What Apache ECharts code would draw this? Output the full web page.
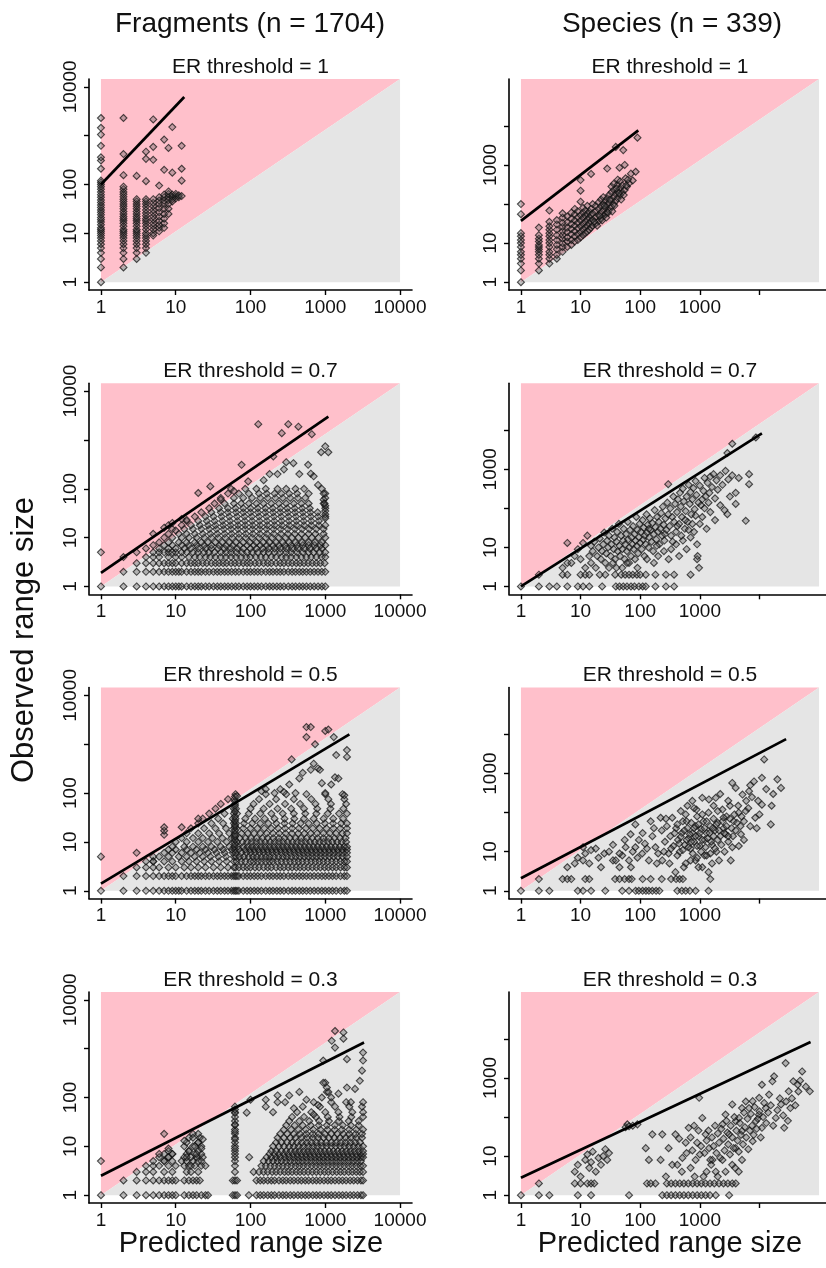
<!DOCTYPE html>
<html>
<head>
<meta charset="utf-8">
<title>Observed vs predicted range size</title>
<script src="https://cdn.jsdelivr.net/npm/echarts@6/dist/echarts.min.js"></script>
<style>
  html, body { margin: 0; padding: 0; background: #fff; }
  #chart { width: 826px; height: 1268px; }
</style>
</head>
<body>
<div id="chart"></div>
<script>
// ---- tick values ----
const fragTicks = [1, 10, 100, 1000, 10000]
const fragXLabels = [1, 10, 100, 1000, 10000]
const fragYLabels = [1, 10, 100, 10000]
const spTicks = [1, 10, 100, 1000, 10000]
const spXLabels = [1, 10, 100, 1000]
const spYLabels = [1, 10, 1000]

const thresholds = ['1', '0.7', '0.5', '0.3']

// ---- fitted lines (start / end) ----
const fragFit1 = [[1, 100], [13, 6200]]
const fragFit07 = [[1, 1.9], [1100, 3000]]
const fragFit05 = [[1, 1.4], [2100, 1600]]
const fragFit03 = [[1, 2.5], [3300, 1340]]
const spFit1 = [[1, 37], [93, 7700]]
const spFit07 = [[1, 1], [11000, 8300]]
const spFit05 = [[1, 2.1], [28000, 7600]]
const spFit03 = [[1, 2.8], [72000, 8300]]

// ---- Fragments, ER = 1 : [x, [y...]] ----
const fragCols1 = [
  [1, [1, 2, 3, 4, 5, 6, 7, 8, 9, 10, 11, 12, 13, 15, 17, 19, 21, 24, 27, 30, 34, 38, 43, 48, 55, 62, 70, 80, 90, 100, 110, 120, 210, 310, 360, 620, 1050, 1450, 2300]],
  [2, [2, 3, 4, 5, 6, 7, 8, 9, 10, 11, 12, 14, 16, 18, 20, 22, 25, 28, 32, 36, 40, 45, 50, 56, 63, 70, 80, 90, 155, 420, 2300]],
  [3, [3, 4, 5, 6, 7, 8, 9, 10, 11, 12, 14, 16, 18, 20, 22, 25, 28, 32, 36, 40, 45, 50, 150]],
  [4, [4, 5, 6, 7, 8, 9, 10, 12, 14, 16, 18, 20, 23, 26, 30, 35, 40, 45, 50, 117, 335, 470]],
  [5, [9, 10, 12, 14, 16, 19, 22, 26, 30, 36, 42, 50, 320, 590, 2150]],
  [6, [11, 13, 15, 18, 22, 27, 33, 40, 47, 55, 95]],
  [7, [13, 16, 20, 25, 32, 40, 47, 55, 62, 200, 830]],
  [8, [25, 32, 40, 48, 56, 64, 72, 560]],
  [9, [45, 50, 56, 62, 175, 1500]],
  [10, [52, 58, 64]],
  [11, [55, 60]],
  [12, [58, 120, 210, 620]]
]

// ---- Fragments, ER = 0.7 : [y, [x...]] ----
const fragRows07 = [
  [1, [1, 2, 3, 4, 5, 6, 7, 8, 9, 10, 11, 12, 14, 16, 18, 20, 22, 25, 28, 32, 36, 40, 45, 50, 56, 63, 70, 80, 90, 100, 112, 125, 140, 160, 180, 200, 225, 250, 280, 320, 360, 400, 450, 500, 560, 630, 710, 800, 900, 1000]],
  [2, [2, 3, 4, 5, 6, 7, 8, 9, 10, 11, 12, 14, 16, 18, 20, 22, 25, 28, 32, 36, 40, 45, 50, 56, 63, 70, 80, 90, 100, 112, 125, 140, 160, 180, 200, 225, 250, 280, 320, 360, 400, 450, 500, 560, 630, 710, 800, 900, 1000]],
  [3, [3, 4, 5, 6, 7, 8, 9, 10, 12, 14, 16, 18, 20, 23, 26, 30, 34, 38, 43, 48, 55, 62, 70, 80, 90, 100, 115, 130, 150, 170, 190, 220, 250, 280, 320, 360, 410, 460, 520, 590, 670, 760, 860, 980]],
  [4, [4, 5, 6, 8, 10, 12, 15, 18, 21, 25, 29, 34, 40, 47, 55, 64, 75, 88, 100, 118, 138, 160, 190, 220, 260, 300, 350, 410, 480, 560, 650, 760, 890, 1000]],
  [5, [3, 5, 6, 7, 8, 9, 10, 12, 14, 17, 20, 24, 28, 33, 40, 47, 55, 65, 77, 90, 105, 125, 150, 175, 210, 250, 300, 350, 420, 500, 600, 700, 850, 1000]],
  [6, [4, 6, 8, 10, 13, 16, 20, 25, 30, 37, 45, 55, 67, 80, 100, 120, 145, 175, 210, 250, 300, 360, 430, 520, 620, 750, 900]],
  [7, [5, 7, 9, 12, 15, 19, 24, 30, 38, 47, 58, 72, 90, 110, 135, 165, 200, 240, 290, 350, 420, 500, 600, 720, 870, 1000]],
  [8, [6, 8, 11, 14, 18, 22, 27, 34, 42, 52, 64, 80, 98, 120, 148, 180, 220, 270, 330, 400, 490, 600, 730, 900]],
  [10, [7, 9, 12, 15, 19, 24, 30, 37, 46, 57, 70, 86, 105, 130, 160, 195, 240, 295, 360, 440, 540, 660, 810, 1000]],
  [12, [8, 11, 14, 18, 23, 29, 36, 45, 56, 70, 87, 108, 134, 166, 205, 255, 315, 390, 480, 600, 740, 950]],
  [15, [9, 13, 17, 22, 28, 35, 44, 55, 68, 85, 106, 132, 164, 204, 254, 316, 393, 490, 610, 760, 950]],
  [18, [12, 16, 21, 27, 34, 43, 54, 68, 85, 107, 134, 168, 210, 263, 330, 413, 520, 650, 820, 1000]],
  [22, [14, 20, 26, 33, 42, 53, 67, 84, 105, 132, 166, 208, 260, 327, 410, 515, 650, 820]],
  [27, [18, 25, 32, 41, 52, 66, 83, 104, 130, 163, 205, 258, 323, 405, 510, 640, 800, 1000]],
  [33, [22, 30, 40, 50, 64, 80, 100, 126, 158, 200, 250, 315, 395, 500, 630, 790]],
  [40, [28, 38, 50, 63, 80, 100, 125, 158, 198, 250, 310, 390, 490, 620, 1000]],
  [50, [33, 45, 60, 75, 95, 120, 150, 190, 240, 300, 380, 480, 600, 950]],
  [65, [40, 60, 80, 105, 135, 170, 215, 270, 340, 430, 540, 1000]],
  [80, [50, 70, 95, 130, 165, 210, 260, 330, 420, 600, 1000]],
  [100, [55, 85, 120, 160, 230, 300, 400, 520, 900]]
]
const fragPts07 = [
  [1, 5], [2, 4], [5, 12], [7, 16], [8, 18], [9, 20], [10, 14], [12, 24], [14, 23], [20, 82], [29, 112],
  [40, 60], [60, 90], [76, 310], [93, 142], [127, 2100], [150, 150], [180, 200], [202, 460], [230, 200],
  [262, 1380], [280, 250], [300, 350], [320, 2100], [375, 335], [437, 1870], [450, 200], [590, 310],
  [640, 204], [660, 1310], [700, 180], [800, 120], [880, 560], [950, 60], [950, 80], [1000, 740],
  [1100, 560], [1000, 45], [1000, 35], [1000, 30], [1000, 25], [980, 50]
]

// ---- Fragments, ER = 0.5 ----
const fragRows05 = [
  [1, [1, 2, 3, 4, 5, 6, 7, 8, 9, 10, 11, 12, 14, 16, 18, 20, 22, 25, 28, 32, 36, 40, 45, 50, 56, 60, 63, 66, 70, 80, 90, 100, 112, 125, 140, 160, 180, 200, 225, 250, 280, 320, 360, 400, 450, 500, 560, 630, 710, 800, 900, 1000, 1120, 1250, 1400, 1600, 1800, 1950]],
  [2, [2, 3, 4, 5, 6, 7, 8, 9, 10, 12, 14, 16, 18, 20, 22, 25, 28, 32, 36, 40, 45, 50, 56, 60, 63, 66, 70, 80, 90, 100, 112, 125, 140, 160, 180, 200, 225, 250, 280, 320, 360, 400, 450, 500, 560, 630, 710, 800, 900, 1000, 1120, 1250, 1400, 1600, 1800, 1950]],
  [3, [3, 4, 5, 6, 8, 10, 13, 16, 20, 25, 32, 40, 50, 60, 63, 70, 80, 90, 100, 115, 130, 150, 170, 190, 220, 250, 280, 320, 360, 410, 460, 520, 590, 670, 760, 860, 980, 1100, 1250, 1400, 1600, 1800, 1950]],
  [4, [4, 5, 7, 9, 12, 15, 19, 24, 30, 38, 48, 60, 65, 75, 85, 100, 110, 125, 140, 160, 180, 200, 230, 260, 300, 340, 390, 440, 500, 570, 650, 740, 840, 950, 1080, 1230, 1400, 1600, 1800, 1950]],
  [5, [5, 6, 8, 11, 14, 18, 23, 29, 37, 47, 60, 64, 72, 82, 95, 108, 122, 140, 160, 180, 205, 235, 270, 305, 350, 400, 455, 520, 590, 670, 760, 870, 990, 1130, 1290, 1470, 1700, 1950]],
  [6, [7, 9, 12, 16, 21, 27, 35, 45, 58, 63, 75, 88, 100, 115, 132, 150, 172, 197, 225, 260, 295, 340, 390, 445, 510, 580, 665, 760, 870, 990, 1140, 1300, 1500, 1700, 1950]],
  [7, [8, 10, 14, 19, 25, 33, 43, 56, 62, 70, 85, 98, 112, 128, 147, 168, 192, 220, 252, 288, 330, 378, 432, 495, 566, 650, 745, 850, 975, 1120, 1280, 1470, 1680, 1950]],
  [8, [9, 13, 17, 23, 30, 40, 52, 61, 68, 80, 92, 105, 120, 138, 158, 181, 208, 238, 272, 311, 356, 407, 466, 534, 611, 700, 800, 915, 1050, 1200, 1370, 1570, 1800, 1950]],
  [10, [10, 14, 20, 27, 36, 48, 60, 66, 78, 90, 104, 120, 138, 158, 182, 209, 240, 275, 316, 363, 416, 478, 548, 629, 722, 828, 950, 1090, 1250, 1440, 1650, 1900]],
  [12, [12, 17, 23, 31, 42, 56, 61, 72, 86, 102, 121, 144, 170, 202, 240, 285, 338, 401, 476, 565, 670, 795, 943, 1120, 1330, 1580, 1870]],
  [15, [14, 20, 28, 38, 52, 62, 76, 92, 112, 136, 165, 200, 243, 295, 358, 435, 528, 641, 778, 945, 1150, 1390, 1690, 1950]],
  [19, [16, 24, 34, 47, 60, 65, 80, 100, 124, 153, 190, 235, 290, 360, 445, 550, 680, 840, 1040, 1290, 1590, 1950]],
  [24, [20, 30, 43, 60, 64, 82, 105, 135, 173, 222, 285, 365, 468, 600, 770, 990, 1270, 1630, 1950]],
  [30, [23, 37, 58, 63, 85, 115, 155, 210, 285, 385, 520, 700, 950, 1280, 1730]],
  [38, [28, 45, 60, 66, 95, 135, 190, 270, 380, 540, 760, 1080, 1530, 1950]],
  [48, [34, 60, 64, 100, 150, 230, 350, 520, 780, 1170, 1750]],
  [60, [40, 62, 110, 180, 290, 460, 740, 1190, 1900]],
  [75, [50, 61, 130, 220, 380, 650, 1100, 1800]],
  [95, [63, 160, 300, 560, 1000, 1700]]
]
const fragCol05 = [62, [9, 11, 13, 14, 17, 20, 22, 27, 33, 42, 55, 68, 85]]
const fragPts05 = [
  [1, 5], [3, 6], [7, 14], [7, 17], [7, 20], [5, 4], [12, 20], [20, 30], [66, 87], [140, 110], [160, 120],
  [210, 100], [250, 120], [280, 105], [330, 150], [355, 490], [400, 100], [450, 200], [500, 260],
  [560, 2250], [640, 2250], [560, 1400], [730, 1000], [640, 300], [700, 400], [800, 320], [1000, 1870],
  [1100, 2000], [1300, 1400], [1350, 210], [1400, 600], [1950, 760], [1950, 550], [1200, 150], [900, 160],
  [850, 300], [1000, 100], [1500, 200], [1800, 90]
]

// ---- Fragments, ER = 0.3 ----
const fragRows03 = [
  [1, [1, 2, 3, 4, 5, 6, 7, 8, 9, 10, 13, 15, 17, 19, 22, 25, 27, 58, 62, 66, 95, 120, 135, 150, 170, 190, 210, 240, 270, 300, 340, 380, 430, 480, 540, 600, 680, 760, 850, 960, 1080, 1200, 1350, 1520, 1700, 1900, 2150, 2400, 2700, 3000, 3200]],
  [2, [2, 3, 4, 5, 6, 7, 8, 9, 10, 13, 15, 17, 19, 21, 58, 62, 66, 120, 135, 150, 170, 190, 210, 240, 270, 300, 340, 380, 430, 480, 540, 600, 680, 760, 850, 960, 1080, 1200, 1350, 1520, 1700, 1900, 2150, 2400, 2700, 3000, 3200]],
  [3, [3, 4, 5, 7, 9, 14, 16, 20, 62, 110, 130, 150, 170, 195, 220, 250, 285, 320, 360, 410, 460, 520, 590, 670, 760, 860, 980, 1100, 1250, 1420, 1600, 1800, 2050, 2300, 2600, 2900, 3200]],
  [4, [4, 5, 6, 8, 10, 13, 15, 18, 22, 62, 140, 160, 185, 210, 240, 270, 310, 350, 400, 450, 510, 580, 660, 750, 850, 960, 1090, 1240, 1400, 1590, 1800, 2050, 2300, 2600, 2950, 3200]],
  [5, [5, 7, 9, 12, 14, 17, 20, 62, 150, 175, 200, 230, 260, 300, 340, 390, 440, 500, 570, 650, 740, 840, 950, 1080, 1230, 1400, 1590, 1800, 2050, 2350, 2650, 3000]],
  [6, [6, 8, 13, 16, 19, 23, 62, 165, 190, 220, 250, 290, 330, 380, 430, 490, 560, 640, 730, 830, 940, 1070, 1220, 1390, 1580, 1800, 2050, 2330, 2650, 3000, 3200]],
  [7, [7, 9, 14, 18, 22, 62, 180, 210, 240, 280, 320, 370, 420, 480, 550, 620, 710, 810, 920, 1050, 1190, 1350, 1540, 1750, 2000, 2270, 2580, 2950, 3200]],
  [8, [8, 15, 20, 62, 190, 220, 260, 300, 345, 395, 450, 515, 590, 670, 765, 870, 990, 1130, 1290, 1470, 1670, 1900, 2170, 2470, 2810, 3200]],
  [10, [13, 17, 22, 62, 200, 240, 280, 330, 380, 440, 510, 590, 680, 780, 900, 1040, 1200, 1380, 1590, 1830, 2110, 2430, 2800, 3200]],
  [12, [14, 20, 62, 220, 260, 310, 360, 420, 490, 570, 660, 770, 890, 1030, 1200, 1390, 1610, 1870, 2170, 2520, 2920]],
  [15, [15, 21, 62, 230, 280, 340, 400, 480, 570, 680, 800, 950, 1120, 1330, 1570, 1860, 2200, 2600, 3100]],
  [18, [17, 62, 250, 310, 380, 460, 560, 680, 820, 990, 1200, 1450, 1750, 2100, 2550, 3100]],
  [22, [62, 280, 350, 440, 550, 690, 860, 1070, 1340, 1670, 2090, 2600, 3200]],
  [27, [62, 300, 390, 500, 640, 820, 1050, 1340, 1720, 2200, 2800]],
  [33, [62, 330, 450, 610, 830, 1120, 1520, 2060, 2800]],
  [40, [62, 360, 520, 750, 1080, 1550, 2230, 3200]],
  [50, [62, 200, 420, 650, 1000, 1500, 2300, 3200]],
  [65, [62, 160, 500, 850, 1350, 2100, 3100]],
  [80, [230, 700, 1200, 1900, 3200]]
]
const fragPts03 = [
  [1, 5], [7, 18], [6, 7], [7, 5], [8, 6], [8, 9], [9, 7], [13, 13], [14, 6], [15, 8], [16, 4], [17, 15],
  [18, 10], [19, 7], [20, 12], [20, 18], [22, 5], [22, 9], [23, 14], [25, 4], [62, 9], [62, 14], [62, 20],
  [62, 28], [62, 48], [62, 57], [89, 49], [96, 6], [100, 90], [160, 90], [230, 110], [290, 80], [330, 110],
  [380, 60], [450, 130], [560, 90], [700, 45], [940, 570], [1000, 200], [1050, 130], [1220, 1450],
  [1350, 2300], [1750, 2150], [1750, 1600], [1350, 1050], [1950, 610], [3200, 830], [3200, 570],
  [3100, 355], [2900, 220], [1950, 160], [1500, 120], [2500, 150], [1200, 100], [900, 100], [800, 70],
  [2200, 80], [1100, 130], [940, 200], [1050, 160]
]

// ---- Species, ER = 1 ----
const spCols1 = [
  [1, [1, 2, 3, 4, 5, 6, 8, 10, 12, 15, 18, 55, 100]],
  [2, [2, 3, 4, 5, 6, 7, 8, 9, 11, 13, 16, 25]],
  [3, [3, 4, 5, 6, 8, 10, 12, 15, 18, 22, 27, 35, 68]],
  [4, [4, 5, 7, 9, 12, 16, 22, 30, 39]],
  [5, [6, 8, 10, 13, 16, 20, 26, 33, 45, 58]]
]
const spPts1 = [
  [6, 8], [6, 11], [6, 14], [6, 19], [6, 25], [6, 34], [6, 48], [7, 9], [7, 12], [7, 17], [7, 23], [7, 31],
  [7, 42], [7, 60], [8, 11], [8, 15], [8, 20], [8, 28], [8, 38], [8, 55], [8, 75], [9, 12], [9, 17], [9, 24],
  [9, 33], [9, 46], [9, 65], [10, 14], [10, 19], [10, 27], [10, 38], [10, 52], [10, 115], [10, 220], [10, 410],
  [11, 16], [11, 22], [11, 31], [11, 44], [11, 60], [11, 80], [12, 18], [12, 25], [12, 35], [12, 50], [12, 68],
  [13, 20], [13, 28], [13, 40], [13, 56], [13, 90], [14, 22], [14, 32], [14, 45], [14, 64], [15, 25], [15, 36],
  [15, 52], [15, 75], [15, 590], [16, 28], [16, 40], [16, 58], [16, 100], [18, 32], [18, 46], [18, 66], [18, 90],
  [20, 36], [20, 52], [20, 75], [20, 110], [22, 42], [22, 60], [22, 88], [22, 130], [24, 48], [24, 70],
  [24, 100], [24, 150], [26, 55], [26, 80], [26, 120], [28, 62], [28, 95], [28, 140], [28, 810], [30, 70],
  [30, 110], [30, 170], [33, 85], [33, 130], [33, 200], [33, 280], [36, 100], [36, 150], [36, 230], [36, 330],
  [39, 120], [39, 180], [39, 2900], [42, 140], [42, 210], [42, 310], [42, 420], [46, 170], [46, 250], [46, 380],
  [50, 200], [50, 300], [52, 2400], [57, 455], [55, 230], [60, 280], [65, 340], [70, 600], [84, 670],
  [90, 5000], [75, 400], [45, 850], [55, 1000], [17, 35], [19, 28], [21, 50], [23, 38], [25, 90], [27, 45],
  [29, 60], [31, 130], [34, 65], [37, 90], [40, 250], [44, 190], [48, 130], [53, 170], [58, 300], [62, 420]
]

// ---- Species, ER = 0.7 ----
const spRows07 = [
  [1, [1, 2, 3, 4, 6, 9, 11, 14, 23, 39, 45, 52, 60, 70, 80, 95, 110, 124, 180, 270, 370]],
  [2, [2, 5, 6, 10, 12, 14, 21, 26, 38, 48, 56, 65, 75, 88, 100, 124, 180, 270, 370, 700]]
]
const spPts07 = [
  [5, 3], [6, 13], [6, 4], [7, 4], [8, 6], [9, 9], [10, 5], [11, 13], [12, 3], [13, 20], [14, 6], [15, 4],
  [15, 11], [16, 8], [17, 14], [18, 3], [19, 6], [20, 10], [21, 17], [22, 5], [23, 8], [24, 12], [25, 24],
  [26, 4], [27, 7], [28, 15], [29, 10], [30, 3], [30, 20], [32, 6], [33, 12], [34, 30], [35, 4], [36, 9],
  [37, 18], [38, 5], [40, 14], [41, 25], [42, 8], [44, 40], [45, 11], [46, 6], [48, 20], [50, 3], [50, 9],
  [52, 15], [53, 30], [55, 5], [56, 12], [58, 22], [60, 8], [62, 45], [63, 16], [65, 4], [66, 10], [68, 28],
  [70, 6], [72, 18], [74, 12], [76, 35], [78, 9], [80, 22], [82, 5], [84, 15], [86, 60], [88, 11], [90, 28],
  [92, 7], [95, 18], [98, 40], [100, 13], [103, 25], [106, 9], [110, 50], [112, 16], [115, 32], [118, 6],
  [120, 20], [124, 12], [128, 70], [130, 24], [134, 38], [138, 10], [142, 18], [146, 55], [150, 28],
  [155, 14], [160, 42], [165, 8], [170, 22], [175, 90], [180, 33], [186, 16], [192, 60], [198, 25], [205, 45],
  [210, 12], [218, 30], [225, 75], [232, 20], [240, 110], [248, 38], [255, 15], [265, 55], [275, 28],
  [285, 140], [295, 70], [300, 5], [310, 35], [320, 100], [330, 20], [345, 60], [360, 200], [370, 45],
  [385, 130], [400, 25], [415, 80], [430, 170], [450, 40], [465, 250], [480, 110], [500, 60], [520, 320],
  [540, 150], [560, 30], [580, 85], [600, 200], [625, 45], [650, 400], [680, 130], [700, 260], [720, 70],
  [750, 170], [780, 330], [820, 95], [850, 500], [880, 220], [900, 5], [920, 6], [970, 3], [950, 140],
  [1000, 380], [1050, 120], [1100, 170], [1150, 280], [1200, 600], [1250, 200], [1350, 450], [1450, 250],
  [1500, 650], [1600, 350], [1700, 750], [1800, 180], [1900, 520], [2000, 300], [2200, 700], [2400, 400],
  [2700, 910], [2900, 71], [2900, 2600], [3000, 550], [3500, 700], [3500, 4500], [4000, 250], [4500, 600],
  [5900, 48], [6700, 415], [6700, 750], [8700, 6500], [295, 415],
  [40, 3], [60, 4], [90, 3], [130, 5], [170, 4], [200, 6], [250, 8], [330, 9], [400, 12], [450, 6],
  [520, 15], [600, 9], [700, 18], [800, 25], [900, 12], [1000, 40], [1100, 60], [1300, 30], [1500, 80],
  [1800, 50], [2200, 120], [2600, 90], [3200, 200], [4000, 130], [140, 30], [190, 11], [260, 22], [350, 14],
  [420, 35], [490, 20], [570, 50], [650, 28], [750, 40], [850, 65], [1200, 100], [1400, 140]
]

// ---- Species, ER = 0.5 ----
const spRows05 = [
  [1, [1, 2, 3, 9, 11, 15, 26, 50, 65, 84, 95, 110, 125, 140, 160, 185, 210, 420, 500, 580, 680, 850, 1400]],
  [2, [2, 5, 6, 7, 12, 14, 38, 45, 55, 65, 72, 110, 150, 230, 330, 400, 460, 520, 1500]]
]
const spPts05 = [
  [6, 4], [8, 5], [9, 7], [11, 13], [11, 6], [12, 9], [14, 5], [15, 11], [18, 12], [20, 7], [22, 4], [25, 9],
  [30, 10], [35, 6], [39, 6], [45, 4], [50, 8], [57, 13], [65, 6], [69, 28], [75, 10], [83, 50], [83, 13],
  [95, 20], [108, 9], [120, 16], [140, 6], [150, 60], [160, 25], [180, 13], [200, 9], [220, 74], [230, 35],
  [235, 6], [260, 18], [280, 45], [300, 9], [320, 25], [345, 74], [360, 14], [390, 3], [400, 40], [430, 20],
  [460, 10], [500, 30], [520, 60], [560, 15], [580, 90], [580, 5], [620, 40], [650, 22], [700, 12], [720, 55],
  [760, 30], [800, 18], [850, 6], [850, 45], [900, 80], [950, 25], [1000, 14], [1050, 38], [1100, 240],
  [1100, 4], [1150, 60], [1200, 20], [1300, 30], [1400, 3], [1400, 100], [1420, 218], [1500, 45], [1600, 15],
  [1700, 70], [1800, 35], [1850, 240], [1900, 10], [2000, 55], [2100, 6], [2200, 25], [2400, 120], [2500, 40],
  [2700, 28], [2800, 80], [3000, 18], [3200, 150], [3500, 13], [3500, 575], [3700, 60], [4000, 430],
  [4000, 35], [4500, 100], [4900, 28], [5200, 290], [5500, 60], [5900, 110], [6700, 355], [7000, 45],
  [8100, 630], [8500, 74], [9500, 200], [11000, 160], [11000, 780], [12000, 2300], [15500, 50],
  [20000, 710], [23000, 430], [17000, 300], [330, 12], [380, 30], [420, 50], [450, 16], [480, 24], [520, 11],
  [550, 35], [600, 20], [640, 13], [680, 28], [720, 18], [760, 9], [800, 40], [850, 25], [900, 14], [950, 50],
  [1000, 30], [1050, 10], [1100, 20], [1200, 40], [1250, 13], [1300, 60], [1350, 22], [1450, 30], [1500, 9],
  [1550, 18], [1650, 40], [1700, 25], [1800, 12], [1900, 50], [2000, 20], [2100, 35], [2300, 15], [2400, 60],
  [2600, 30], [2800, 45], [3000, 25], [3200, 70], [3400, 40], [3800, 90], [4200, 55], [4400, 150],
  [5000, 80], [6000, 200], [1200, 8], [900, 7], [700, 6], [1600, 5],
  [35, 15], [45, 9], [55, 20], [70, 4], [90, 7], [110, 30], [130, 12], [170, 40], [190, 5], [250, 10],
  [270, 70], [310, 5], [420, 8], [480, 110], [540, 4], [620, 150], [750, 200], [880, 120], [950, 4],
  [1300, 8], [1700, 150], [2200, 300], [2600, 10], [3000, 200], [3300, 6], [4500, 14], [5500, 20],
  [6500, 130], [7500, 250], [9000, 40], [10000, 90], [13000, 400], [16000, 150], [7000, 500], [2000, 110],
  [2500, 75], [3600, 25], [4800, 45], [1100, 90], [800, 130], [600, 60]
]

// ---- Species, ER = 0.3 ----
const spRows03 = [
  [1, [1, 2, 3, 9, 15, 65, 235, 280, 330, 390, 460, 540, 640, 760, 900, 1060, 1250, 1480, 1850, 3100]],
  [2, [2, 8, 10, 13, 15, 17, 130, 150, 180, 280, 330, 390, 460, 540, 640, 760, 900, 1060, 1250, 1480, 1750, 2100, 2500, 2950, 3500, 4000]]
]
const spPts03 = [
  [8, 4], [9, 6], [10, 3], [12, 8], [13, 11], [14, 5], [15, 7], [16, 13], [18, 4], [20, 9], [22, 6], [24, 10],
  [26, 15], [28, 8], [30, 12], [57, 55], [61, 65], [75, 60], [90, 65], [65, 58], [124, 16], [140, 8],
  [160, 36], [220, 8], [235, 36], [270, 3], [300, 16], [345, 6], [390, 36], [510, 9], [580, 22], [650, 53],
  [975, 310], [1100, 95], [1250, 36], [1430, 16], [1630, 8], [1850, 4], [2400, 65], [2700, 116], [3100, 36],
  [3500, 210], [4000, 16], [4550, 95], [5100, 44], [5900, 250], [6700, 170], [7700, 24], [8700, 78],
  [9900, 310], [11000, 53], [12800, 170], [14500, 375], [16500, 820], [18800, 95], [23000, 210],
  [26000, 53], [27500, 2400], [31000, 455], [33000, 170], [37000, 820], [44000, 670], [52000, 1470],
  [70000, 455], [17600, 1100], [11000, 670], [5100, 170], [4000, 78], [5100, 8], [3900, 5], [9800, 115],
  [7700, 255], [1200, 12], [1300, 25], [1400, 45], [1500, 8], [1600, 30], [1700, 18], [1800, 60], [1900, 12],
  [2000, 38], [2100, 22], [2200, 9], [2300, 50], [2500, 28], [2600, 14], [2800, 80], [2900, 40], [3000, 20],
  [3200, 11], [3300, 60], [3500, 30], [3700, 16], [3800, 100], [4100, 45], [4300, 25], [4500, 13], [4700, 70],
  [4900, 35], [5300, 20], [5500, 130], [5700, 55], [6000, 30], [6300, 90], [6500, 15], [6900, 45],
  [7200, 120], [7500, 60], [8000, 35], [8300, 180], [9000, 50], [9400, 90], [10000, 140], [10500, 30],
  [11500, 100], [12000, 230], [13000, 70], [14000, 130], [15500, 200], [17000, 60], [20000, 150],
  [22000, 300], [25000, 110], [28000, 250], [30000, 80], [35000, 300], [40000, 200], [45000, 450],
  [48000, 850], [60000, 600], [700, 30], [750, 14], [800, 60], [850, 8], [900, 22], [950, 45], [1000, 11],
  [1050, 18], [600, 12], [450, 28], [420, 6], [500, 4], [700, 5], [820, 3], [1150, 3], [1300, 4], [1550, 6],
  [2000, 3], [2700, 4], [3500, 6], [2400, 8], [4500, 4]
]

// ---- helpers ----
function fromCols(cols) {
  const out = []
  cols.forEach(c => c[1].forEach(y => out.push([c[0], y])))
  return out
}
function fromRows(rows) {
  const out = []
  rows.forEach(r => r[1].forEach(x => out.push([x, r[0]])))
  return out
}

const panelData = [
  [fromCols(fragCols1), fromCols(spCols1).concat(spPts1)],
  [fromRows(fragRows07).concat(fragPts07), fromRows(spRows07).concat(spPts07)],
  [fromRows(fragRows05).concat(fromCols([fragCol05]), fragPts05), fromRows(spRows05).concat(spPts05)],
  [fromRows(fragRows03).concat(fragPts03), fromRows(spRows03).concat(spPts03)]
]
const panelFits = [
  [fragFit1, spFit1],
  [fragFit07, spFit07],
  [fragFit05, spFit05],
  [fragFit03, spFit03]
]

// layout
const FONT = "'Liberation Sans', Arial, Helvetica, sans-serif"
const colLeft = [89, 509]
const colWidth = [323, 322]
const rowTop = [79, 383.3, 687.6, 992]
const plotH = 211
// R style 4% padding on log range
const colExt = [
  { min: Math.pow(10, -0.16), max: Math.pow(10, 4.16), dataMax: 10000 },
  { min: Math.pow(10, -0.2), max: Math.pow(10, 5.2), dataMax: 100000 }
]

const grids = []
const xAxes = []
const yAxes = []
const series = []
const graphics = []

function regionSeries(idx, verts, color) {
  return {
    type: 'custom',
    xAxisIndex: idx,
    yAxisIndex: idx,
    silent: true,
    z: 1,
    data: verts,
    renderItem: function (params, api) {
      if (params.dataIndex !== 0) return null
      return {
        type: 'polygon',
        shape: { points: verts.map(v => api.coord(v)) },
        style: { fill: color }
      }
    }
  }
}

let idx = 0
for (let r = 0; r < 4; r++) {
  for (let c = 0; c < 2; c++) {
    const ext = colExt[c]
    grids.push({ left: colLeft[c], top: rowTop[r], width: colWidth[c], height: plotH, containLabel: false, outerBoundsMode: 'none' })
    const axisCommon = {
      gridIndex: idx,
      type: 'log',
      logBase: 10,
      min: ext.min,
      max: ext.max,
      axisLine: { show: true, lineStyle: { color: '#000', width: 1.6 } },
      splitLine: { show: false },
      minorTick: { show: false }
    }
    xAxes.push(Object.assign({}, axisCommon, {
      axisTick: { show: true, length: 5, customValues: c === 0 ? fragTicks : spTicks, lineStyle: { color: '#000', width: 1.4 } },
      axisLabel: {
        customValues: c === 0 ? fragXLabels : spXLabels,
        formatter: v => String(Math.round(v)),
        fontSize: 19, fontFamily: FONT, color: '#111', margin: 8
      }
    }))
    yAxes.push(Object.assign({}, axisCommon, {
      axisTick: { show: true, length: 5, customValues: c === 0 ? fragTicks : spTicks, lineStyle: { color: '#000', width: 1.4 } },
      axisLabel: {
        customValues: c === 0 ? fragYLabels : spYLabels,
        formatter: v => String(Math.round(v)),
        rotate: 90,
        fontSize: 19, fontFamily: FONT, color: '#111', margin: 9
      }
    }))

    // shaded regions: above / below the 1:1 split of the plot
    series.push(regionSeries(idx, [[1, 1], [1, ext.max], [ext.dataMax, ext.max]], '#ffc0cb'))
    series.push(regionSeries(idx, [[1, 1], [ext.dataMax, ext.max], [ext.dataMax, 1]], '#e5e5e5'))

    series.push({
      type: 'scatter',
      xAxisIndex: idx,
      yAxisIndex: idx,
      data: panelData[r][c],
      symbol: 'diamond',
      symbolSize: 7,
      silent: true,
      z: 2,
      itemStyle: { color: 'rgba(85,85,85,0.45)', borderColor: 'rgba(15,15,15,0.9)', borderWidth: 1.1 }
    })
    series.push({
      type: 'line',
      xAxisIndex: idx,
      yAxisIndex: idx,
      data: panelFits[r][c],
      symbol: 'none',
      silent: true,
      z: 3,
      lineStyle: { color: '#000', width: 2.7 }
    })

    graphics.push({
      type: 'text',
      x: colLeft[c] + colWidth[c] / 2,
      y: rowTop[r] - 12,
      style: { text: 'ER threshold = ' + thresholds[r], font: '21px ' + FONT, fill: '#111', textAlign: 'center', textVerticalAlign: 'middle' }
    })
    idx++
  }
}

graphics.push(
  { type: 'text', x: 250, y: 24, style: { text: 'Fragments (n = 1704)', font: '28px ' + FONT, fill: '#111', textAlign: 'center', textVerticalAlign: 'middle' } },
  { type: 'text', x: 672, y: 24, style: { text: 'Species (n = 339)', font: '28px ' + FONT, fill: '#111', textAlign: 'center', textVerticalAlign: 'middle' } },
  { type: 'text', x: 251, y: 1244, style: { text: 'Predicted range size', font: '29px ' + FONT, fill: '#111', textAlign: 'center', textVerticalAlign: 'middle' } },
  { type: 'text', x: 670, y: 1244, style: { text: 'Predicted range size', font: '29px ' + FONT, fill: '#111', textAlign: 'center', textVerticalAlign: 'middle' } },
  { type: 'text', x: 24, y: 640, rotation: Math.PI / 2, style: { text: 'Observed range size', font: '31px ' + FONT, fill: '#111', textAlign: 'center', textVerticalAlign: 'middle' } }
)

const chart = echarts.init(document.getElementById('chart'), null, { renderer: 'canvas' })
chart.setOption({
  backgroundColor: '#fff',
  animation: false,
  grid: grids,
  xAxis: xAxes,
  yAxis: yAxes,
  series: series,
  graphic: graphics
})
</script>
</body>
</html>
